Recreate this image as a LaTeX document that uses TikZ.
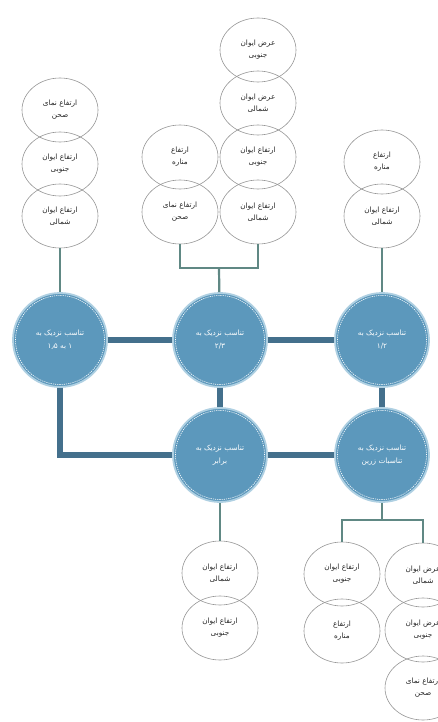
\documentclass[tikz,border=0pt]{standalone}
\usepackage{fontspec}
\usetikzlibrary{shapes.geometric}
\TeXXeTstate=1
\newfontfamily\fafont[Script=Arabic]{DejaVu Sans}
\newcommand{\fatext}[1]{\beginR #1\endR}
\definecolor{bigfill}{RGB}{92,152,188}
\definecolor{bigedge}{RGB}{175,208,226}
\definecolor{thickc}{RGB}{68,112,140}
\definecolor{thinc}{RGB}{96,136,132}
\definecolor{smalledge}{RGB}{150,150,150}
\tikzset{
  small/.style={ellipse,draw=smalledge,line width=0.6pt,minimum width=76pt,minimum height=64pt,inner sep=0pt,align=center,font=\fafont\fontsize{7.3}{12}\selectfont,text=black!85},
  big/.style={circle,fill=bigfill,draw=bigedge,line width=1.8pt,minimum size=94pt,inner sep=0pt,align=center,font=\fafont\fontsize{7.3}{13}\selectfont,text=white},
  thick/.style={draw=thickc,line width=5.5pt},
  thin/.style={draw=thinc,line width=2.2pt}
}
\begin{document}
\begin{tikzpicture}[x=1pt,y=-1pt]
\useasboundingbox (0,0) rectangle (437,722);
% big circles
\node[big] (L)  at (60,340)  {\fatext{تناسب نزدیک به}\\\fatext{۱ به ۱٫۵}};
\node[big] (M)  at (220,340) {\fatext{تناسب نزدیک به}\\\fatext{۲/۳}};
\node[big] (R)  at (382,340) {\fatext{تناسب نزدیک به}\\\fatext{۱/۲}};
\node[big] (BM) at (220,455) {\fatext{تناسب نزدیک به}\\\fatext{برابر}};
\node[big] (BR) at (382,455) {\fatext{تناسب نزدیک به}\\\fatext{تناسبات زرین}};
\foreach \n in {L,M,R,BM,BR}{
  \draw[white,line width=0.6pt,dash pattern=on 1.2pt off 1pt] (\n) circle (44.5pt);
}
% left column
\node[small] (l1) at (60,110) {\fatext{ارتفاع نمای}\\\fatext{صحن}};
\node[small] (l2) at (60,164) {\fatext{ارتفاع ایوان}\\\fatext{جنوبی}};
\node[small] (l3) at (60,216) {\fatext{ارتفاع ایوان}\\\fatext{شمالی}};
% middle columns
\node[small] (m1) at (258,50)  {\fatext{عرض ایوان}\\\fatext{جنوبی}};
\node[small] (m2) at (258,103) {\fatext{عرض ایوان}\\\fatext{شمالی}};
\node[small] (m3) at (258,157) {\fatext{ارتفاع ایوان}\\\fatext{جنوبی}};
\node[small] (m4) at (258,212) {\fatext{ارتفاع ایوان}\\\fatext{شمالی}};
\node[small] (n1) at (180,157) {\fatext{ارتفاع}\\\fatext{مناره}};
\node[small] (n2) at (180,212) {\fatext{ارتفاع نمای}\\\fatext{صحن}};
% right column
\node[small] (r1) at (382,162) {\fatext{ارتفاع}\\\fatext{مناره}};
\node[small] (r2) at (382,216) {\fatext{ارتفاع ایوان}\\\fatext{شمالی}};
% bottom middle
\node[small] (b1) at (220,573) {\fatext{ارتفاع ایوان}\\\fatext{شمالی}};
\node[small] (b2) at (220,628) {\fatext{ارتفاع ایوان}\\\fatext{جنوبی}};
% bottom right
\node[small] (c1) at (342,574) {\fatext{ارتفاع ایوان}\\\fatext{جنوبی}};
\node[small] (c2) at (342,631) {\fatext{ارتفاع}\\\fatext{مناره}};
\node[small] (d1) at (423,575) {\fatext{عرض ایوان}\\\fatext{شمالی}};
\node[small] (d2) at (423,630) {\fatext{عرض ایوان}\\\fatext{جنوبی}};
\node[small] (d3) at (423,688) {\fatext{ارتفاع نمای}\\\fatext{صحن}};
% thick connectors
\draw[thick] (L) -- (M);
\draw[thick] (M) -- (R);
\draw[thick] (M) -- (BM);
\draw[thick] (R) -- (BR);
\draw[thick,line join=miter] (L.south) |- (BM.west);
\draw[thick] (BM) -- (BR);
% thin connectors
\coordinate (jM) at (219,268);
\coordinate (jB) at (382,520);
\draw[thin] (l3) -- (L);
\draw[thin] (r2) -- (R);
\draw[thin] (n2.south) |- (jM) -| (m4.south);
\draw[thin] (jM) -- (M);
\draw[thin] (BM) -- (b1);
\draw[thin] (BR.south) -- (jB);
\draw[thin] (c1.north) |- (jB) -| (d1.north);
\end{tikzpicture}
\end{document}
